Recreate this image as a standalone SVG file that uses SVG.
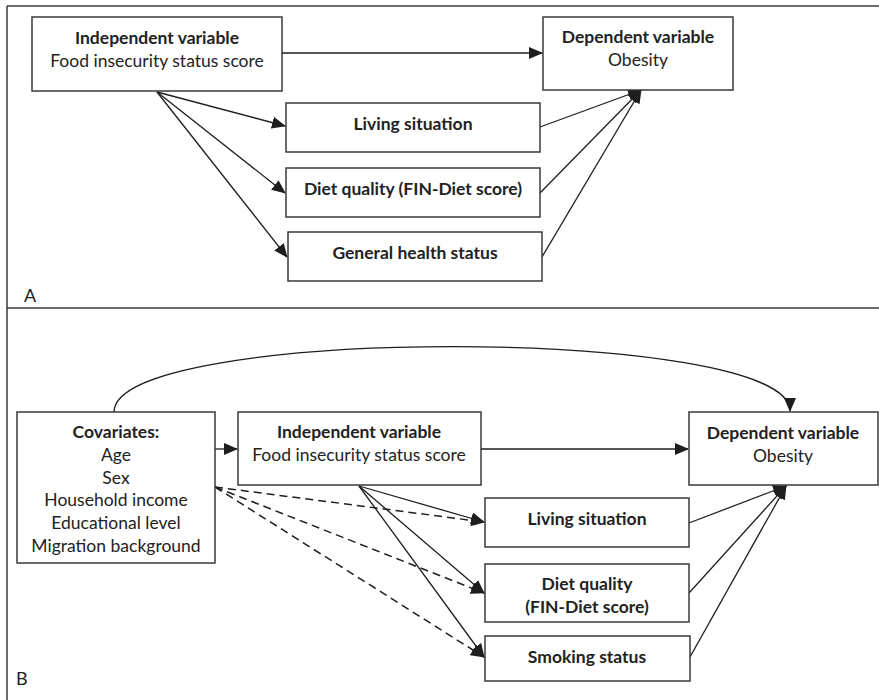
<svg xmlns="http://www.w3.org/2000/svg" width="879" height="700" viewBox="0 0 879 700">
<style>
  .box { fill: #fff; stroke: #3a3a3a; stroke-width: 1.5; }
  .frame { fill: none; stroke: #3a3a3a; stroke-width: 1.5; }
  .t { font-family: Lato, "Open Sans", "Liberation Sans", sans-serif; font-size: 17.5px; fill: #222; text-anchor: middle; dominant-baseline: central; }
  .b { font-weight: bold; }
  .lbl { font-family: Lato, "Liberation Sans", sans-serif; font-size: 18px; fill: #222; dominant-baseline: central; }
  .c { fill: none; stroke: #1e1e1e; stroke-width: 1.3; marker-end: url(#ah); }
  .d { stroke-dasharray: 8 5; stroke-width: 1.5; }
</style>
<defs>
  <marker id="ah" markerUnits="userSpaceOnUse" markerWidth="14" markerHeight="12" viewBox="0 0 14 12" refX="13" refY="6" orient="auto">
    <path d="M0,0 L14,6 L0,12 Z" fill="#1e1e1e"/>
  </marker>
</defs>
<rect width="879" height="700" fill="#fff"/>
<g id="frame">
  <line class="frame" x1="7" y1="6" x2="879" y2="6"/>
  <line class="frame" x1="7" y1="6" x2="7" y2="700"/>
  <line class="frame" x1="7" y1="308" x2="879" y2="308"/>
  <text class="lbl" x="24" y="295">A</text>
  <text class="lbl" x="16" y="678">B</text>
</g>
<g id="connectors">
  <line class="c" x1="282" y1="53" x2="542" y2="53"/>
  <line class="c" x1="157" y1="92" x2="285" y2="126"/>
  <line class="c" x1="157" y1="92" x2="285" y2="193"/>
  <line class="c" x1="157" y1="92" x2="287" y2="257"/>
  <line class="c" x1="540" y1="127" x2="641" y2="90"/>
  <line class="c" x1="540" y1="193" x2="641" y2="90"/>
  <line class="c" x1="542" y1="257" x2="641" y2="90"/>
  <path class="c" d="M114,412 C114,325 790,325 790,411"/>
  <line class="c" x1="215" y1="449" x2="237" y2="449"/>
  <line class="c" x1="481" y1="449" x2="688" y2="449"/>
  <line class="c" x1="359" y1="486" x2="484" y2="522"/>
  <line class="c" x1="359" y1="486" x2="484" y2="593"/>
  <line class="c" x1="359" y1="486" x2="484" y2="657"/>
  <line class="c d" x1="215" y1="487" x2="484" y2="522"/>
  <line class="c d" x1="215" y1="487" x2="484" y2="593"/>
  <line class="c d" x1="215" y1="487" x2="484" y2="657"/>
  <line class="c" x1="689" y1="523" x2="786" y2="486"/>
  <line class="c" x1="689" y1="593" x2="786" y2="486"/>
  <line class="c" x1="690" y1="657" x2="786" y2="486"/>
</g>
<g id="indepA">
  <rect class="box" x="32" y="17" width="250" height="74"/>
  <text class="t b" x="157" y="37">Independent variable</text>
  <text class="t" x="157" y="60">Food insecurity status score</text>
</g>
<g id="depA">
  <rect class="box" x="543" y="17" width="190" height="73"/>
  <text class="t b" x="638" y="36">Dependent variable</text>
  <text class="t" x="638" y="59">Obesity</text>
</g>
<g id="livingA">
  <rect class="box" x="286" y="103" width="254" height="49"/>
  <text class="t b" x="413" y="123">Living situation</text>
</g>
<g id="dietA">
  <rect class="box" x="286" y="168" width="254" height="49"/>
  <text class="t b" x="413" y="188">Diet quality (FIN-Diet score)</text>
</g>
<g id="healthA">
  <rect class="box" x="288" y="232" width="254" height="49"/>
  <text class="t b" x="415" y="252">General health status</text>
</g>
<g id="covariates">
  <rect class="box" x="17" y="412" width="198" height="151"/>
  <text class="t b" x="116" y="431">Covariates:</text>
  <text class="t" x="116" y="454">Age</text>
  <text class="t" x="116" y="477">Sex</text>
  <text class="t" x="116" y="499">Household income</text>
  <text class="t" x="116" y="522">Educational level</text>
  <text class="t" x="116" y="545">Migration background</text>
</g>
<g id="indepB">
  <rect class="box" x="238" y="412" width="243" height="73"/>
  <text class="t b" x="359" y="431">Independent variable</text>
  <text class="t" x="359" y="454">Food insecurity status score</text>
</g>
<g id="depB">
  <rect class="box" x="689" y="412" width="189" height="73"/>
  <text class="t b" x="783" y="432">Dependent variable</text>
  <text class="t" x="783" y="455">Obesity</text>
</g>
<g id="livingB">
  <rect class="box" x="485" y="498" width="204" height="49"/>
  <text class="t b" x="587" y="518">Living situation</text>
</g>
<g id="dietB">
  <rect class="box" x="485" y="564" width="204" height="58"/>
  <text class="t b" x="587" y="583">Diet quality</text>
  <text class="t b" x="587" y="606">(FIN-Diet score)</text>
</g>
<g id="smokingB">
  <rect class="box" x="485" y="636" width="205" height="45"/>
  <text class="t b" x="587" y="656">Smoking status</text>
</g>
</svg>
